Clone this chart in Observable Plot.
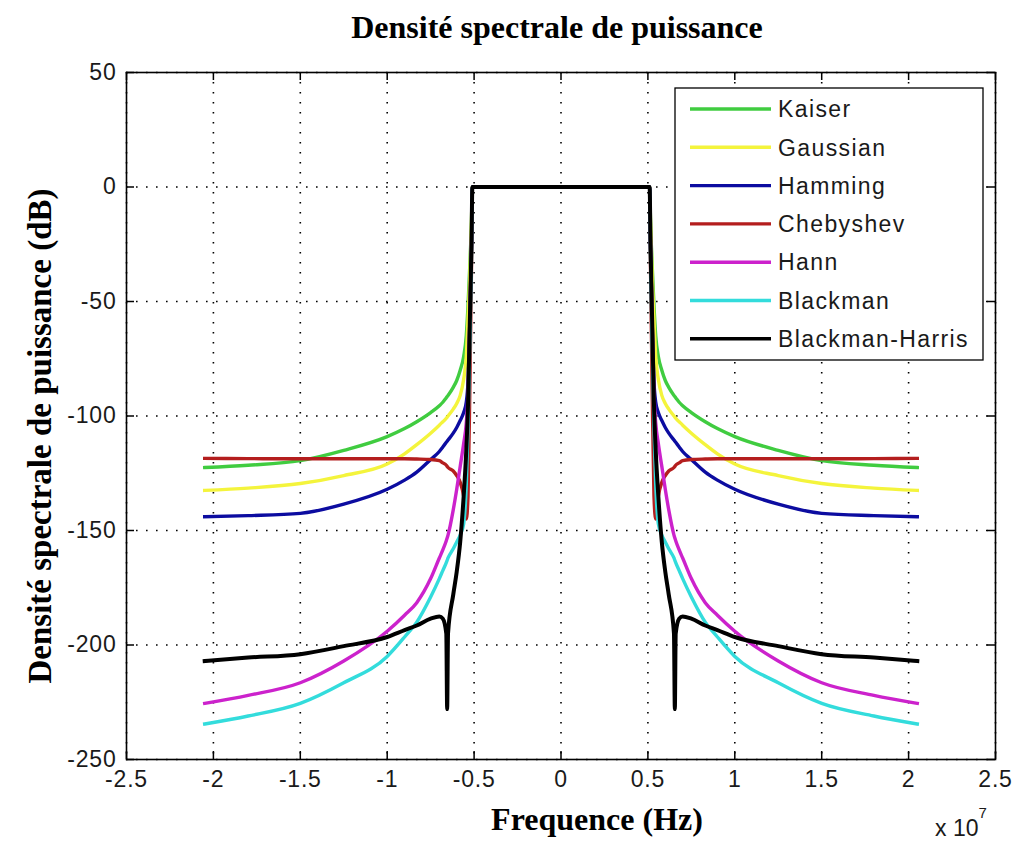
<!DOCTYPE html>
<html><head><meta charset="utf-8">
<script src="https://cdn.jsdelivr.net/npm/d3@7"></script>
<script src="https://cdn.jsdelivr.net/npm/@observablehq/plot@0.6"></script>
<style>body{margin:0;background:#fff;} #chart{width:1015px;height:843px;}</style>
</head><body><div id="chart"></div>
<script>
// Frequency in units of 10^7 Hz
const freq = [-2.05, -1.8, -1.5, -1.25, -1.0, -0.9, -0.83, -0.75, -0.7, -0.68, -0.66, -0.655, -0.65, -0.62, -0.6, -0.58, -0.56, -0.545, -0.535, -0.525, -0.515, -0.51,
  0,
  0.51, 0.515, 0.525, 0.535, 0.545, 0.56, 0.58, 0.6, 0.62, 0.65, 0.655, 0.66, 0.68, 0.7, 0.75, 0.83, 0.9, 1.0, 1.25, 1.5, 1.8, 2.05];

const kaiser = [-122.5, -121.5, -119.5, -115, -109, -105.5, -102.5, -98.5, -95.5, -94, -92, -91.5, -91, -87.5, -84.5, -80, -74, -65, -52, -35, -15, 0,
  0,
  0, -15, -35, -52, -65, -74, -80, -84.5, -87.5, -91, -91.5, -92, -94, -95.5, -98.5, -102.5, -105.5, -109, -115, -119.5, -121.5, -122.5];
const gaussian = [-132.5, -131.5, -129.5, -126, -121, -116.5, -112.5, -107.5, -104, -102.5, -101, -100.5, -100, -97, -94.5, -91, -84, -74, -58, -40, -15, 0,
  0,
  0, -15, -40, -58, -74, -84, -91, -94.5, -97, -100, -100.5, -101, -102.5, -104, -107.5, -112.5, -116.5, -121, -126, -129.5, -131.5, -132.5];
const hamming = [-144, -143.5, -142.5, -138.5, -132, -128, -124.5, -119, -115.5, -113.5, -111.5, -111, -110.5, -107.5, -105, -102, -98.5, -94, -85, -60, -25, 0,
  0,
  0, -25, -60, -85, -94, -98.5, -102, -105, -107.5, -110.5, -111, -111.5, -113.5, -115.5, -119, -124.5, -128, -132, -138.5, -142.5, -143.5, -144];
const chebyshev = [-118.5, -118.6, -118.7, -118.7, -118.7, -118.7, -118.8, -119, -119.5, -120.5, -121.5, -122, -122.5, -124, -126, -129, -135, -145, -135, -90, -35, 0,
  0,
  0, -35, -90, -135, -145, -135, -129, -126, -124, -122.5, -122, -121.5, -120.5, -119.5, -119, -118.8, -118.7, -118.7, -118.7, -118.7, -118.6, -118.5];
const hann = [-225.5, -222, -216.5, -207, -194, -187, -181.5, -171, -162, -158.5, -154.5, -153.3, -152, -141, -132, -122, -112, -103, -90, -60, -25, 0,
  0,
  0, -25, -60, -90, -103, -112, -122, -132, -141, -152, -153.3, -154.5, -158.5, -162, -171, -181.5, -187, -194, -207, -216.5, -222, -225.5];
const blackman = [-234.5, -231, -225.5, -216.5, -205, -196.5, -190, -179, -171, -167.5, -164, -163, -162, -158, -155, -152, -147, -130, -105, -70, -30, 0,
  0,
  0, -30, -70, -105, -130, -147, -152, -155, -158, -162, -163, -164, -167.5, -171, -179, -190, -196.5, -205, -216.5, -225.5, -231, -234.5];
const blackmanHarris = [-207, -205.5, -204, -200.5, -196.5, -193.5, -191.5, -188.5, -187.5, -188.5, -195, -228, -195, -178, -168, -155, -135, -115, -95, -60, -25, 0,
  0,
  0, -25, -60, -95, -115, -135, -155, -168, -178, -195, -228, -195, -188.5, -187.5, -188.5, -191.5, -193.5, -196.5, -200.5, -204, -205.5, -207];

const seriesNames = ["Kaiser", "Gaussian", "Hamming", "Chebyshev", "Hann", "Blackman", "Blackman-Harris"];
const seriesColors = ["#40cc40", "#f4f43c", "#0c0ca0", "#b41e1e", "#cc22cc", "#33dcdc", "#000000"];
const seriesValues = [kaiser, gaussian, hamming, chebyshev, hann, blackman, blackmanHarris];

const xTicks = [-2.5, -2, -1.5, -1, -0.5, 0, 0.5, 1, 1.5, 2, 2.5];
const yTicks = [50, 0, -50, -100, -150, -200, -250];

const rows = seriesNames.flatMap((name, k) => freq.map((f, i) => ({f, db: seriesValues[k][i], name})));

const W = 1015, H = 843;
const mL = 126, mR = 20, mT = 72, mB = 84;
const fw = W - mL - mR, fh = H - mT - mB, tk = 8;
const tickFont = "'Liberation Sans', Arial, sans-serif";

const svg = Plot.plot({
  width: W, height: H,
  marginLeft: mL, marginRight: mR, marginTop: mT, marginBottom: mB,
  style: {background: "#fff", fontFamily: tickFont, fontSize: "23px", color: "#1a1a1a", overflow: "visible"},
  x: {domain: [-2.5, 2.5], label: null},
  y: {domain: [-250, 50], label: null},
  color: {domain: seriesNames, range: seriesColors},
  marks: [
    Plot.ruleX(xTicks, {x: d => d, stroke: "#000", strokeWidth: 1.6, strokeDasharray: "1.6,8.4"}),
    Plot.ruleY(yTicks, {y: d => d, stroke: "#000", strokeWidth: 1.6, strokeDasharray: "1.6,8.4"}),
    ...seriesNames.map(name => Plot.line(rows.filter(r => r.name === name), {
      x: "f", y: "db", stroke: "name", curve: "monotone-x",
      strokeWidth: name === "Blackman-Harris" ? 4 : 3.4, strokeLinejoin: "round", strokeLinecap: "square"
    })),
    Plot.frame({stroke: "#000", strokeWidth: 1.6}),
    Plot.ruleX(xTicks, {x: d => d, insetTop: fh - tk, stroke: "#000", strokeWidth: 1.5}),
    Plot.ruleX(xTicks, {x: d => d, insetBottom: fh - tk, stroke: "#000", strokeWidth: 1.5}),
    Plot.ruleY(yTicks, {y: d => d, insetRight: fw - tk, stroke: "#000", strokeWidth: 1.5}),
    Plot.ruleY(yTicks, {y: d => d, insetLeft: fw - tk, stroke: "#000", strokeWidth: 1.5}),
    Plot.axisX(xTicks, {tickSize: 0, tickPadding: 11, tickFormat: d => String(d), label: null, fontSize: 23, fill: "#1a1a1a"}),
    Plot.axisY(yTicks, {tickSize: 0, tickPadding: 10, tickFormat: d => String(d), label: null, fontSize: 23, fill: "#1a1a1a"})
  ]
});
document.getElementById("chart").appendChild(svg);

const s = d3.select(svg);
s.selectAll("g[aria-label='x-axis tick label'] text, g[aria-label='y-axis tick label'] text")
  .attr("letter-spacing", 0.8);

const serif = "'Liberation Serif', 'Times New Roman', serif";
s.append("text").attr("x", 557).attr("y", 38).attr("text-anchor", "middle")
  .attr("font-family", serif).attr("font-weight", "bold").attr("font-size", 32).attr("fill", "#000")
  .text("Densité spectrale de puissance");
s.append("text").attr("transform", "translate(51,436) rotate(-90)").attr("text-anchor", "middle")
  .attr("font-family", serif).attr("font-weight", "bold").attr("font-size", 33).attr("fill", "#000")
  .text("Densité spectrale de puissance (dB)");
s.append("text").attr("x", 597).attr("y", 830).attr("text-anchor", "middle")
  .attr("font-family", serif).attr("font-weight", "bold").attr("font-size", 32).attr("fill", "#000")
  .text("Frequence (Hz)");
const exp = s.append("text").attr("x", 935).attr("y", 836).attr("text-anchor", "start")
  .attr("font-family", tickFont).attr("font-size", 23).attr("fill", "#1a1a1a");
exp.append("tspan").text("x 10");
exp.append("tspan").attr("dy", -18).attr("font-size", 15).text("7");

// Legend
const lx = 675, ly = 88, lw = 308, lh = 272, rowH = 38.3;
const lg = s.append("g");
lg.append("rect").attr("x", lx).attr("y", ly).attr("width", lw).attr("height", lh)
  .attr("fill", "#fff").attr("stroke", "#000").attr("stroke-width", 1.3);
seriesNames.forEach((name, i) => {
  const cy = ly + 21 + i * rowH;
  lg.append("line").attr("x1", lx + 15).attr("x2", lx + 96).attr("y1", cy).attr("y2", cy)
    .attr("stroke", seriesColors[i]).attr("stroke-width", 3.4);
  lg.append("text").attr("x", lx + 103).attr("y", cy).attr("dy", "0.36em").attr("text-anchor", "start")
    .attr("font-family", tickFont).attr("font-size", 23).attr("letter-spacing", 1.4)
    .attr("fill", "#1a1a1a").text(name);
});
</script>
</body></html>
